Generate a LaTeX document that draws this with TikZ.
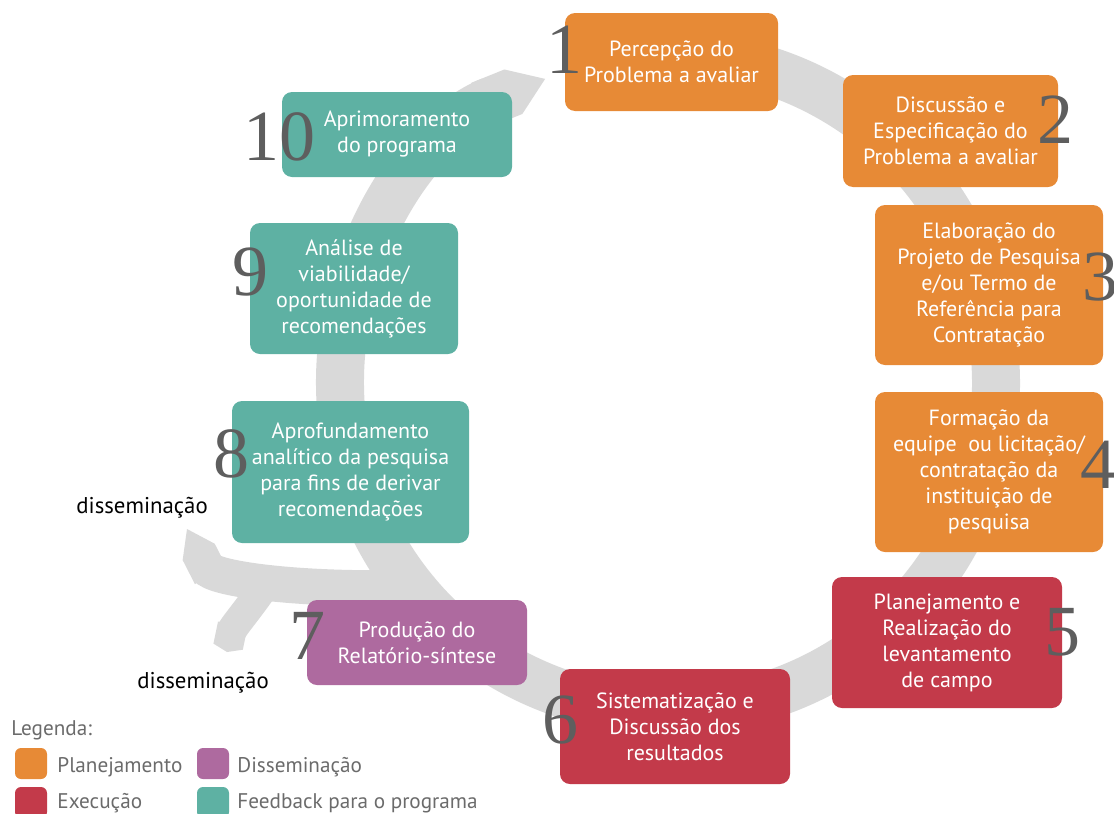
\documentclass[tikz,border=0pt]{standalone}
\usepackage{fontspec}
\newfontfamily\ptsans{PT Sans}
\newfontfamily\numserif{Liberation Serif}
\usepackage{tikz}
\usetikzlibrary{positioning,arrows.meta,calc}

\definecolor{plan}{HTML}{E78A36}
\definecolor{exec}{HTML}{C33A4A}
\definecolor{diss}{HTML}{AE6A9F}
\definecolor{feed}{HTML}{5EB1A3}
\definecolor{ringgray}{HTML}{D9D9D9}
\definecolor{numgray}{HTML}{5E5E5E}
\definecolor{leggray}{HTML}{6B6B6B}

\begin{document}
\begin{tikzpicture}[
  x=0.5pt, y=-0.5pt,
  box/.style={rounded corners=5pt, inner sep=0pt, align=center, text=white, font=\ptsans\fontsize{11}{13}\selectfont},
  num/.style={inner sep=0pt, text=numgray, font=\numserif\fontsize{36}{36}\selectfont},
  band/.style={draw=ringgray, line width=24pt},
  arm/.style={draw=ringgray, line width=18pt},
  swatch/.style={rounded corners=3pt, minimum width=16pt, minimum height=15.5pt, inner sep=0pt},
  legtext/.style={anchor=base west, inner sep=0pt, text=leggray, font=\ptsans\fontsize{10.6}{13}\selectfont},
  dissem/.style={anchor=base west, inner sep=0pt, font=\ptsans\fontsize{11.4}{13}\selectfont}
]
\useasboundingbox (0,0) rectangle (1114,814);

% the cycle and the two dissemination branches
\coordinate (ctr) at (668,383);
\draw[band, -{Triangle Cap[cap angle=70]}] ($(ctr)+(-95:328)$) arc[start angle=95, end angle=-248, radius=164pt];
\draw[arm, -{Triangle Cap[cap angle=70]}] (400,588) .. controls (290,590) and (212,578) .. (187,529);
\draw[arm, line width=15pt, -{Triangle Cap[cap angle=140]}] (265,585) .. controls (248,610) and (232,628) .. (227,652);

% steps
\node[box, fill=plan, minimum width=106.5pt, minimum height=49pt] (b1) at (671.5,62) {Percepção do\\Problema a avaliar};
\node[box, fill=plan, minimum width=107.5pt, minimum height=56pt] (b2) at (950.5,131) {Discussão e\\Especificação do\\Problema a avaliar};
\node[box, fill=plan, minimum width=114pt, minimum height=80pt] (b3) at (989,285) {Elaboração do\\Projeto de Pesquisa\\e/ou Termo de\\Referência para\\Contratação};
\node[box, fill=plan, minimum width=114pt, minimum height=80pt] (b4) at (989,472) {Formação da\\equipe\ \ ou licitação/\\contratação da\\instituição de\\pesquisa};
\node[box, fill=exec, minimum width=115pt, minimum height=65.5pt] (b5) at (947,642.5) {Planejamento e\\Realização do\\levantamento\\de campo};
\node[box, fill=exec, minimum width=115pt, minimum height=57.5pt] (b6) at (675,726.5) {Sistematização e\\Discussão dos\\resultados};
\node[box, fill=diss, minimum width=110pt, minimum height=42.5pt] (b7) at (417,642.5) {Produção do\\Relatório-síntese};
\node[box, fill=feed, minimum width=118.5pt, minimum height=71pt] (b8) at (350.5,472) {Aprofundamento\\analítico da pesquisa\\para fins de derivar\\recomendações};
\node[box, fill=feed, minimum width=104pt, minimum height=65.5pt] (b9) at (354,288.5) {Análise de\\viabilidade/\\oportunidade de\\recomendações};
\node[box, fill=feed, minimum width=115pt, minimum height=42.5pt] (b10) at (397,134.5) {Aprimoramento\\do programa};

% numbers
\node[num] (n1) at (564,50) {1};
\node[num] (n2) at (1055,120) {2};
\node[num] (n3) at (1100,277) {3};
\node[num] (n4) at (1098,465) {4};
\node[num] (n5) at (1062,632) {5};
\node[num] (n6) at (560,720) {6};
\node[num] (n7) at (307,636) {7};
\node[num] (n8) at (231,454) {8};
\node[num] (n9) at (250,272) {9};
\node[num] (n10) at (279,137) {10};

\node[dissem] (d1) at (76,513) {disseminação};
\node[dissem] (d2) at (137,688) {disseminação};

% legend
\node[legtext] (leg) at (11,735) {Legenda:};
\node[swatch, fill=plan] (s1) at (31,763.5) {};
\node[swatch, fill=exec] (s2) at (31,802.5) {};
\node[swatch, fill=diss] (s3) at (213,763.5) {};
\node[swatch, fill=feed] (s4) at (213,802.5) {};
\node[legtext] (l1) at (57,772) {Planejamento};
\node[legtext] (l2) at (57,808) {Execução};
\node[legtext] (l3) at (237,772) {Disseminação};
\node[legtext] (l4) at (237,808) {Feedback para o programa};
\end{tikzpicture}
\end{document}
